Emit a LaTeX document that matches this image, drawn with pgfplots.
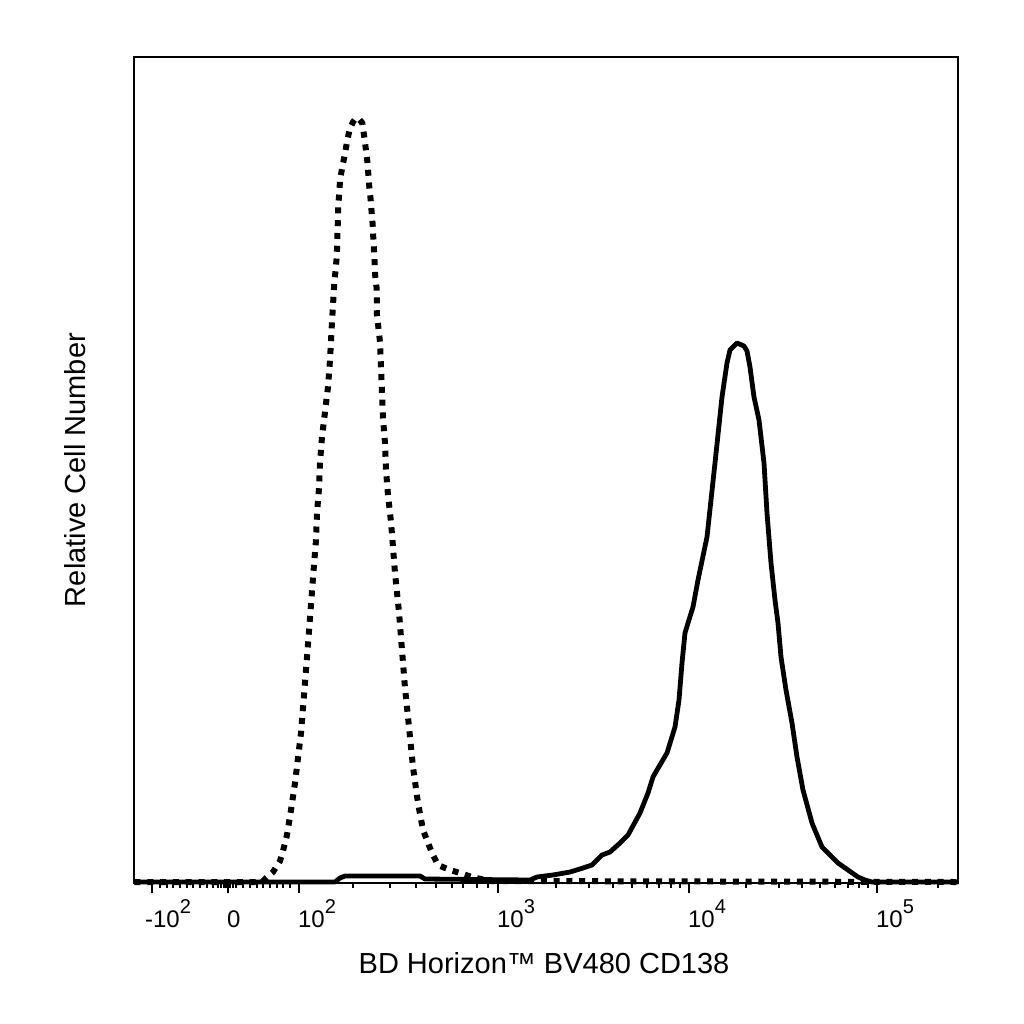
\documentclass[border=0pt]{standalone}
\usepackage{pgfplots}
\pgfplotsset{compat=1.18}
\usepackage{fontspec}
\setmainfont{Liberation Sans}
\newcommand{\sq}[1]{\raisebox{7pt}{\fontsize{10}{10}\selectfont #1}}
\begin{document}
\begin{tikzpicture}
\path[use as bounding box] (0pt,0pt) rectangle (512pt,512pt);
\begin{axis}[
  at={(67.25pt,70.5pt)}, anchor=south west,
  width=411.75pt, height=413pt, scale only axis,
  xmin=134.5, xmax=958, ymin=57, ymax=883, y dir=reverse,
  clip=false,
  axis line style={line width=1pt, black},
  ytick=\empty,
  xtick pos=bottom,
  tick align=outside,
  major tick length=5pt, minor tick length=2.5pt,
  every tick/.style={line width=1pt, black},
  xtick={152,228,299,498,689,877},
  xticklabels={\hspace*{-3pt}-10\sq{2}, 0, 10\sq{2}, 10\sq{3}, 10\sq{4}, 10\sq{5}},
  minor xtick={160,167,173,180,187,193,200,207,213,218,221,224,226,230,233,236,243,250,257,263,270,277,283,290,353,390,416,436,452,463,477,488,555.5,589,613,631.5,646.6,659.4,670.5,680.2,745.6,778.7,802.2,820.4,835.3,847.9,858.8,868.4,938},
  xticklabel style={anchor=base west, xshift=-4pt, font=\fontsize{12}{13}\selectfont, yshift=-17pt},
  xlabel={BD Horizon™ BV480 CD138},
  xlabel style={at={(axis description cs:0.4973,-0.109)}, anchor=base, font=\fontsize{14.5}{16}\selectfont},
  ylabel={Relative Cell Number},
  ylabel style={at={(axis description cs:-0.0595,0.5)}, anchor=base, font=\fontsize{14.5}{16}\selectfont},
]
\addplot[black, line width=3pt, line cap=butt, dash pattern=on 3pt off 3.4pt] coordinates {
(134.5,882)(262,882)(266,878)(273,872)(280,861)(283,851)(287,835)(291,810)(295,783)(298,758)(301,733)(304,695)(307,657)(310,618)(313,578)(316,540)(317,513)(319,488)(320,463)(322,437)(325,412)(328,387)(330,360)(332,322)(334.3,283)(335.7,269)(336.7,257)(337.3,243)(337.5,232)(338,218)(338.3,205)(339.3,193)(340,180)(342.3,167)(344.7,155)(347,142)(349.7,129)(353,122)(356,118)(359,119)(362.3,123)(364,135)(365.7,148)(367.3,161)(368.3,174)(369.3,187)(370.7,200)(371.7,213)(372.7,225)(373.3,238)(374,251)(374.7,264)(375.3,277)(376.7,289)(377,315)(380,342)(381,367)(382,393)(383,418)(385,443)(386,470)(388,495)(391,522)(393,547)(395,573)(399,612)(402,650)(405,688)(409,727)(413,767)(418,803)(423,830)(432,853)(438,865)(450,870)(460,873)(472,877)(490,881)(958,882)
};
\addplot[black, line width=2.4pt, line join=round] coordinates {
(134.5,882)(335,882)(340,878)(345,876)(420,876)(425,879)(530,880)(537,877)(553,875)(570,872)(583,868)(592,865)(602,855)(610,852)(620,843)(628,835)(640,813)(648,793)(653,777)(657,770)(667,753)(675,727)(679,700)(682,663)(685,633)(688,623)(693,607)(698,580)(707,537)(715,463)(722,397)(727,363)(730,350)(737,343)(744,346)(747,351)(750,367)(754,397)(759,420)(764,463)(767,513)(771,563)(775,600)(778,623)(781,657)(786,690)(792,723)(797,757)(803,790)(812,823)(822,847)(838,863)(848,870)(858,877)(865,880)(872,882)(958,882)
};
\end{axis}
\end{tikzpicture}
\end{document}
